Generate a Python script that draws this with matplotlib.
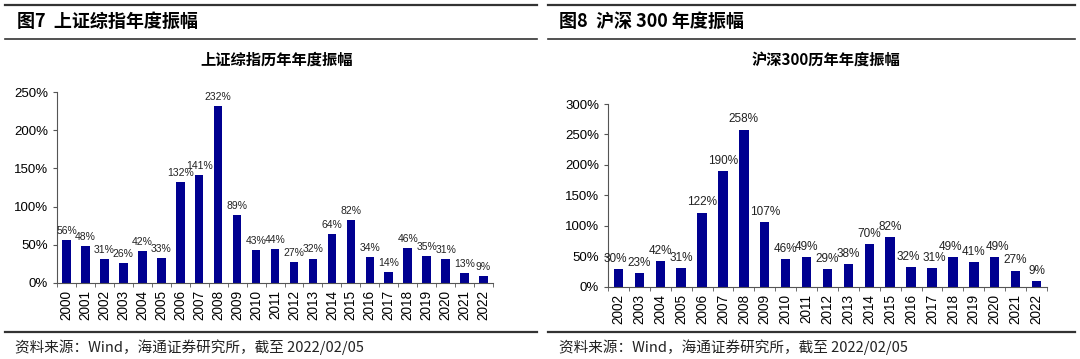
import numpy as np
import matplotlib.pyplot as plt
from matplotlib.lines import Line2D
from matplotlib.ticker import FuncFormatter, MultipleLocator

plt.rcParams['font.family'] = ['Liberation Sans', 'Noto Sans CJK SC', 'DejaVu Sans']

# 上证综指 2000-2022
sh_years = [str(y) for y in range(2000, 2023)]
sh_amp = [56, 48, 31, 26, 42, 33, 132, 141, 232, 89, 43, 44, 27, 32, 64, 82, 34, 14, 46, 35, 31, 13, 9]

# 沪深300 2002-2022
hs_years = [str(y) for y in range(2002, 2023)]
hs_amp = [30, 23, 42, 31, 122, 190, 258, 107, 46, 49, 29, 38, 70, 82, 32, 31, 49, 41, 49, 27, 9]

bar_color = '#000090'
cjk = ['Noto Sans CJK SC', 'DejaVu Sans']

fig = plt.figure(figsize=(10.8, 3.59), dpi=100)


def draw_panel(rect, years, vals, ymax, step, lab_size, nudge=None):
    nudge = nudge or {}
    ax = fig.add_axes(rect)
    x = np.arange(len(years))
    ax.bar(x, vals, width=0.45, color=bar_color, zorder=2)
    for i, (xi, v) in enumerate(zip(x, vals)):
        ax.annotate(f'{v}%', (xi, v), xytext=(nudge.get(i, 0), 3), textcoords='offset points',
                    ha='center', va='bottom', fontsize=lab_size, color='#222222')
    ax.set_xlim(-0.5, len(years) - 0.5)
    ax.set_ylim(0, ymax)
    ax.yaxis.set_major_locator(MultipleLocator(step))
    ax.yaxis.set_major_formatter(FuncFormatter(lambda v, p: f'{v:.0f}%'))
    ax.set_xticks(x)
    ax.set_xticklabels(years, rotation=90, fontsize=9.8)
    ax.tick_params(axis='x', which='major', length=0, pad=5)
    ax.set_xticks(np.arange(-0.5, len(years)), minor=True)
    ax.tick_params(axis='x', which='minor', length=3, color='#555555')
    ax.tick_params(axis='y', labelsize=9.5, length=3, color='#555555')
    ax.spines['right'].set_visible(False)
    ax.spines['top'].set_visible(False)
    ax.spines['left'].set_color('#555555')
    ax.spines['bottom'].set_color('#555555')
    return ax


draw_panel([0.0528, 0.2117, 0.4037, 0.532], sh_years, sh_amp, 250, 50, 7.5)
draw_panel([0.563, 0.2006, 0.4064, 0.5097], hs_years, hs_amp, 300, 50, 8.5,
           nudge={0: -2, 14: -2, 15: 2, 16: -2, 18: 2})

# 标题区和分隔线
for x0, x1 in [(0.005, 0.497), (0.507, 0.995)]:
    fig.add_artist(Line2D([x0, x1], [0.986, 0.986], color='#333333', lw=1.6))
    fig.add_artist(Line2D([x0, x1], [0.891, 0.891], color='#333333', lw=1.2))
    fig.add_artist(Line2D([x0, x1], [0.075, 0.075], color='#333333', lw=1.6))

fig.text(0.016, 0.94, '图7  上证综指年度振幅', fontsize=13, fontweight='bold',
         family=cjk, va='center')
fig.text(0.518, 0.94, '图8  沪深 300 年度振幅', fontsize=13, fontweight='bold',
         family=cjk, va='center')
fig.text(0.256, 0.833, '上证综指历年年度振幅', fontsize=11, fontweight='bold',
         family=cjk, ha='center', va='center')
fig.text(0.765, 0.833, '沪深300历年年度振幅', fontsize=11, fontweight='bold',
         family=cjk, ha='center', va='center')

src = '资料来源：Wind，海通证券研究所，截至 2022/02/05'
fig.text(0.014, 0.033, src, fontsize=10.5, family=cjk, va='center', color='#222222')
fig.text(0.518, 0.033, src, fontsize=10.5, family=cjk, va='center', color='#222222')

fig.savefig('out.png', dpi=100)
